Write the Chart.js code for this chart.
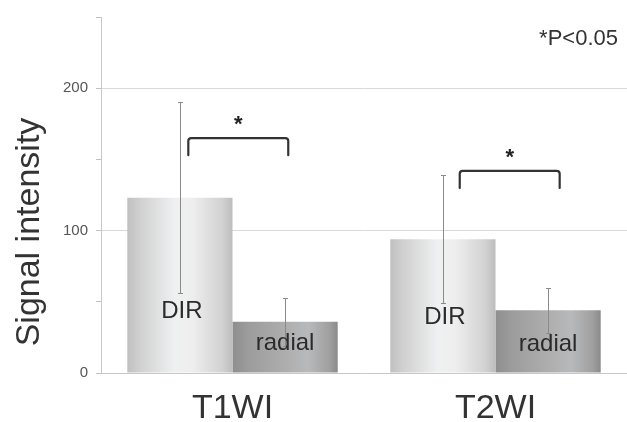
<!DOCTYPE html>
<html>
<head>
<meta charset="utf-8">
<script src="https://cdn.jsdelivr.net/npm/chart.js@4"></script>
<style>
  body { margin: 0; background: #fff; }
  #wrap { width: 627px; height: 422px; position: relative; }
</style>
</head>
<body>
<div id="wrap"><canvas id="chart"></canvas></div>
<script>
// datos
const categories = ["T1WI", "T2WI"];
const dirMean = [123, 94];
const dirSD = [67, 45];
const radialMean = [36, 44];
const radialSD = [17, 16];
const yMax = 250;
const yLabelStep = 100;
// corchetes de significancia (valor de la linea superior)
const sigTop = [165, 142];
const sigDrop = 12;
// posicion vertical de las etiquetas dentro de las barras
const dirLabelAt = [43, 39];
const radialLabelAt = [21, 20];

const FONT = "'Liberation Sans', Arial, sans-serif";

function barGradient(ctx, stops) {
  const chart = ctx.chart;
  const xs = chart.scales.x;
  if (!chart.chartArea || !xs) return stops[Math.floor(stops.length / 2)][1];
  const catW = xs.width / categories.length;
  const barW = catW * 0.8 / 2;
  const left = xs.getPixelForValue(ctx.dataIndex) - catW * 0.4 + ctx.datasetIndex * barW;
  const g = chart.ctx.createLinearGradient(left, 0, left + barW, 0);
  stops.forEach(s => g.addColorStop(s[0], s[1]));
  return g;
}

const dirStops = [[0, "#c0c0c0"], [0.12, "#d0d0d0"], [0.45, "#eff0f1"], [0.62, "#eeeeee"], [0.9, "#d2d2d2"], [1, "#bdbdbd"]];
const radialStops = [[0, "#8e8e8e"], [0.15, "#9c9c9c"], [0.45, "#ababab"], [0.72, "#b8b9bb"], [0.92, "#a0a0a0"], [1, "#8a8a8a"]];

// barras de error, etiquetas, corchetes y textos extra
const extras = {
  id: "extras",
  afterDatasetsDraw(chart) {
    const c = chart.ctx;
    const y = chart.scales.y;
    const m0 = chart.getDatasetMeta(0).data;
    const m1 = chart.getDatasetMeta(1).data;

    c.save();
    // error bars
    c.strokeStyle = "#8a8a8a";
    c.lineWidth = 1;
    const drawErr = (x, mean, sd) => {
      const t = Math.round(y.getPixelForValue(mean + sd)) + 0.5;
      const b = Math.round(y.getPixelForValue(mean - sd)) + 0.5;
      const xx = Math.round(x) + 0.5;
      c.beginPath();
      c.moveTo(xx, t); c.lineTo(xx, b);
      c.moveTo(xx - 2.5, t); c.lineTo(xx + 2.5, t);
      c.moveTo(xx - 2.5, b); c.lineTo(xx + 2.5, b);
      c.stroke();
    };
    categories.forEach((cat, i) => {
      drawErr(m0[i].x, dirMean[i], dirSD[i]);
      drawErr(m1[i].x, radialMean[i], radialSD[i]);
    });

    // etiquetas dentro de las barras
    c.fillStyle = "#2b2b2b";
    c.font = "24px " + FONT;
    c.textAlign = "center";
    c.textBaseline = "middle";
    categories.forEach((cat, i) => {
      c.fillText("DIR", m0[i].x + 2, y.getPixelForValue(dirLabelAt[i]));
      c.fillText("radial", m1[i].x, y.getPixelForValue(radialLabelAt[i]));
    });

    // corchetes
    c.strokeStyle = "#333";
    c.lineWidth = 2.2;
    c.lineJoin = "round";
    c.lineCap = "round";
    categories.forEach((cat, i) => {
      const l = m0[i].x + m0[i].width * (0.08 + 0.08 * i);
      const r = m1[i].x + m1[i].width * (0.03 + 0.08 * i);
      const t = y.getPixelForValue(sigTop[i]);
      const b = y.getPixelForValue(sigTop[i] - sigDrop);
      c.beginPath();
      c.moveTo(l, b);
      c.lineTo(l, t + 3);
      c.quadraticCurveTo(l, t, l + 3, t);
      c.lineTo(r - 3, t);
      c.quadraticCurveTo(r, t, r, t + 3);
      c.lineTo(r, b);
      c.stroke();
      c.fillStyle = "#222";
      c.font = "bold 22px " + FONT;
      c.textAlign = "center";
      c.textBaseline = "middle";
      c.fillText("*", (l + r) / 2, t - 13);
    });

    // titulo del eje y
    c.fillStyle = "#333";
    c.font = "34px " + FONT;
    c.translate(30, 232);
    c.rotate(-Math.PI / 2);
    c.textAlign = "center";
    c.textBaseline = "middle";
    c.fillText("Signal intensity", 0, 0);
    c.restore();

    c.save();
    c.fillStyle = "#333";
    c.font = "22px " + FONT;
    c.textAlign = "right";
    c.textBaseline = "middle";
    c.fillText("*P<0.05", 618, 39);
    c.restore();
  }
};

new Chart(document.getElementById("chart"), {
  type: "bar",
  data: {
    labels: categories,
    datasets: [
      {
        label: "DIR",
        data: dirMean,
        backgroundColor: ctx => barGradient(ctx, dirStops),
        borderWidth: 0,
        barPercentage: 1,
        categoryPercentage: 0.8
      },
      {
        label: "radial",
        data: radialMean,
        backgroundColor: ctx => barGradient(ctx, radialStops),
        borderWidth: 0,
        barPercentage: 1,
        categoryPercentage: 0.8
      }
    ]
  },
  options: {
    responsive: true,
    maintainAspectRatio: false,
    animation: false,
    layout: { padding: { top: 16, right: 0, left: 0, bottom: 0 } },
    plugins: {
      legend: { display: false },
      tooltip: { enabled: false }
    },
    scales: {
      x: {
        grid: { display: false },
        border: { display: true, color: "#c8c8c8", width: 1 },
        ticks: { color: "#333", font: { family: FONT, size: 34 }, padding: 7 },
        afterFit: s => { s.height = 49; }
      },
      y: {
        min: 0,
        max: yMax,
        ticks: {
          stepSize: 50,
          color: "#555",
          font: { family: FONT, size: 15 },
          padding: 8,
          callback: v => (v % yLabelStep === 0 ? v : "")
        },
        grid: {
          color: ctx => (ctx.tick && ctx.tick.value > 0 && ctx.tick.value % yLabelStep === 0 && ctx.tick.value < yMax ? "#d9d9d9" : "rgba(0,0,0,0)"),
          tickColor: "#c0c0c0",
          tickLength: 5,
          lineWidth: 1
        },
        border: { display: true, color: "#c8c8c8", width: 1 },
        afterFit: s => { s.width = 101; }
      }
    }
  },
  plugins: [extras]
});
</script>
</body>
</html>
